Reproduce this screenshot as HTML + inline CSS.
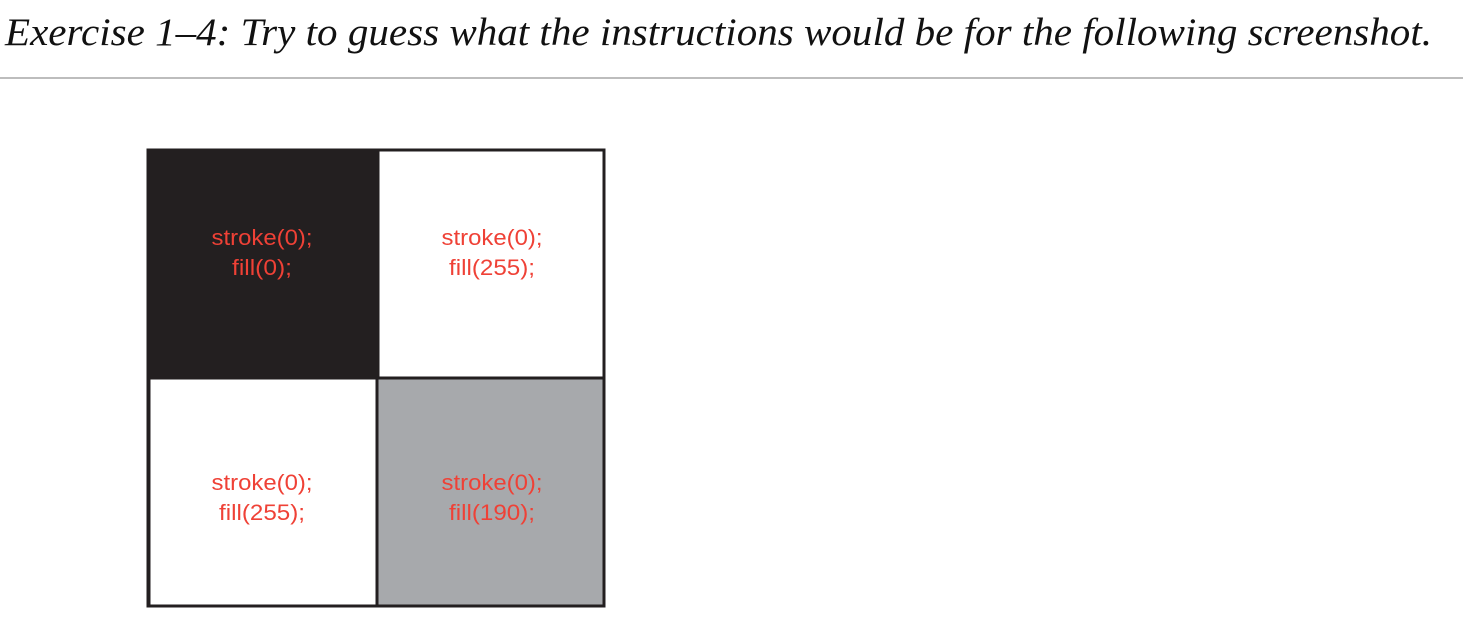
<!DOCTYPE html>
<html><head><meta charset="utf-8"><style>
html,body{margin:0;padding:0;background:#fff;width:1463px;height:638px;overflow:hidden}
</style></head><body>
<svg width="1463" height="638" xmlns="http://www.w3.org/2000/svg">
<text x="5" y="45" font-family="Liberation Serif, serif" font-style="italic" font-size="39" fill="#111" textLength="1427" lengthAdjust="spacingAndGlyphs">Exercise 1–4: Try to guess what the instructions would be for the following screenshot.</text>
<rect x="0" y="77" width="1463" height="2" fill="#bdbdbd"/>
<rect x="148" y="150" width="230" height="228" fill="#231f20"/>
<rect x="378" y="150" width="226" height="228" fill="#fff" stroke="#231f20" stroke-width="3"/>
<rect x="149" y="378" width="228" height="228" fill="#fff" stroke="#231f20" stroke-width="3"/>
<rect x="377" y="378" width="227" height="228" fill="#a7a9ac" stroke="#231f20" stroke-width="3"/>
<rect x="148" y="150" width="456" height="456" fill="none" stroke="#231f20" stroke-width="3"/>
<g font-family="Liberation Sans, Arial, sans-serif" font-size="22" fill="#ef4136" text-anchor="middle">
<text x="262" y="245" textLength="101" lengthAdjust="spacingAndGlyphs">stroke(0);</text><text x="262" y="275" textLength="60" lengthAdjust="spacingAndGlyphs">fill(0);</text>
<text x="492" y="245" textLength="101" lengthAdjust="spacingAndGlyphs">stroke(0);</text><text x="492" y="275" textLength="86" lengthAdjust="spacingAndGlyphs">fill(255);</text>
<text x="262" y="490" textLength="101" lengthAdjust="spacingAndGlyphs">stroke(0);</text><text x="262" y="520" textLength="86" lengthAdjust="spacingAndGlyphs">fill(255);</text>
<text x="492" y="490" textLength="101" lengthAdjust="spacingAndGlyphs">stroke(0);</text><text x="492" y="520" textLength="86" lengthAdjust="spacingAndGlyphs">fill(190);</text>
</g>
</svg>
</body></html>
